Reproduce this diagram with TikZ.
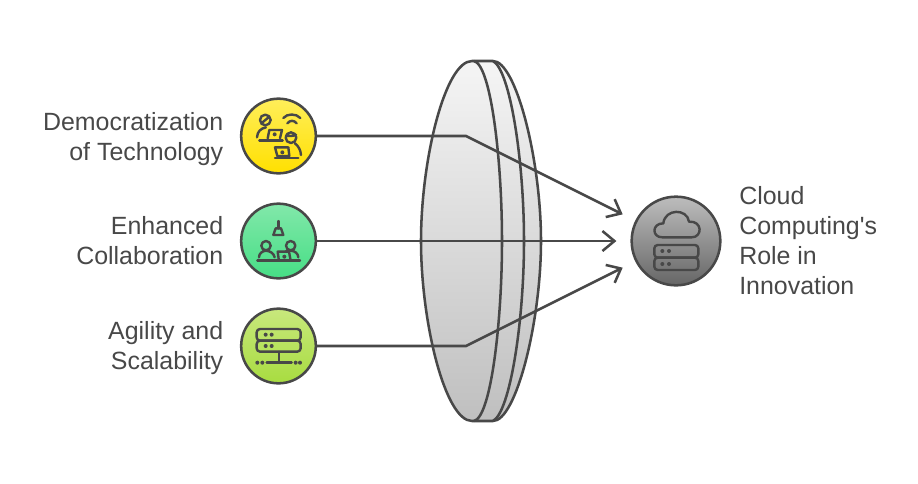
\documentclass[tikz,border=0pt]{standalone}
\usepackage{fontspec}
\setmainfont{Liberation Sans}
\usetikzlibrary{arrows.meta}
\definecolor{ink}{HTML}{484848}
\tikzset{
  x=0.75pt,y=-0.75pt,
  ln/.style={draw=ink,line width=1.9pt},
  thin icon/.style={draw=ink,line width=1.8pt,line cap=round,line join=round},
  dotf/.style={fill=ink,draw=none},
  disc/.style={circle,draw=ink,line width=1.9pt,minimum size=56pt,inner sep=0pt},
  lbl/.style={text=ink,font=\fontsize{18.7pt}{22.5pt}\selectfont,inner sep=0pt},
  arrow line/.style={ln,-{Straight Barb[length=9pt,width=15pt,line width=1.9pt]},shorten >=10.5pt},
}
\begin{document}
\begin{tikzpicture}
\useasboundingbox (0,0) rectangle (918,483);
% lens
\path[ln,top color=white!96!black,bottom color=black!25,line join=round]
  (472,61) -- (493,61) .. controls (516,61) and (541,160) .. (541,241)
  .. controls (541,322) and (516,421) .. (493,421) -- (472,421)
  .. controls (445,421) and (421,322) .. (421,241)
  .. controls (421,160) and (445,61) .. (472,61) -- cycle;
\draw[ln] (474,61) .. controls (491,65) and (502,160) .. (502,241)
  .. controls (502,322) and (491,417) .. (474,421);
\draw[ln] (493,61) .. controls (510,70) and (524,160) .. (524,241)
  .. controls (524,322) and (510,412) .. (493,421);
% nodes
\node[disc,top color={rgb,255:red,255;green,238;blue,90},bottom color={rgb,255:red,255;green,224;blue,0}] (c1) at (278.5,136) {};
\node[disc,top color={rgb,255:red,130;green,232;blue,170},bottom color={rgb,255:red,70;green,222;blue,133}] (c2) at (278.5,241) {};
\node[disc,top color={rgb,255:red,200;green,232;blue,125},bottom color={rgb,255:red,168;green,220;blue,64}] (c3) at (278.5,346) {};
\node[circle,draw=ink,line width=1.9pt,minimum size=66.5pt,inner sep=0pt,top color=black!26,bottom color=black!60] (hub) at (676,241) {};
\coordinate (b1) at (466,136);
\coordinate (b3) at (466,346);
\draw[arrow line] (c1.east) -- (b1) -- (hub);
\draw[arrow line] (c2.east) -- (hub);
\draw[arrow line] (c3.east) -- (b3) -- (hub);
% labels
\node[lbl,align=right,anchor=east] (t1) at (223.5,139.5) {Democratization\\of Technology};
\node[lbl,align=right,anchor=east] (t2) at (223.5,241) {Enhanced\\Collaboration};
\node[lbl,align=right,anchor=east] (t3) at (223.5,348.5) {Agility and\\Scalability};
\node[lbl,align=left,anchor=west] (t4) at (739,241) {Cloud\\Computing\textquotesingle s\\Role in\\Innovation};
% icon 1
\begin{scope}[shift={(230,90)},x=0.25pt,y=-0.25pt]
\draw[thin icon] (106,90) circle[radius=16] (94,100) -- (118,80);
\draw[thin icon] (81,142) .. controls (82,125) and (92,115) .. (108,112);
\draw[thin icon] (113,145) -- (118,120) -- (156,120) -- (150,145);
\draw[thin icon] (88,152) -- (158,152);
\fill[dotf] (134,133) circle[radius=6];
\draw[thin icon] (160,84) .. controls (172,70) and (198,70) .. (211,84);
\draw[thin icon] (172,100) .. controls (180,90) and (192,90) .. (200,100);
\draw[thin icon] (183,143) circle[radius=16] (168,136) .. controls (178,140) and (190,138) .. (198,134);
\draw[thin icon] (195,160) .. controls (205,168) and (212,180) .. (213,195);
\draw[thin icon] (135,172) -- (175,172) -- (178,198) -- (142,198) -- cycle;
\draw[thin icon] (135,204) -- (205,204);
\fill[dotf] (157,187) circle[radius=6];
\end{scope}
% icon 2
\begin{scope}[shift={(230,195)},x=0.25pt,y=-0.25pt]
\draw[thin icon] (145,78) -- (145,100);
\draw[thin icon] (137,100) -- (153,100) -- (160,120) -- (130,120) -- cycle;
\draw[thin icon] (108,152) circle[radius=14] (87,187) .. controls (87,175) and (97,168) .. (108,167) .. controls (120,168) and (132,175) .. (134,187);
\draw[thin icon] (182,152) circle[radius=14] (168,168) -- (182,167) .. controls (195,168) and (204,175) .. (205,187);
\draw[thin icon] (146,192) -- (143,170) -- (177,170) -- (181,192);
\fill[dotf] (163,185) circle[radius=6];
\draw[thin icon] (82,196) -- (210,196);
\end{scope}
% icon 3
\begin{scope}[shift={(230,300)},x=0.25pt,y=-0.25pt]
\draw[thin icon,rounded corners=2.5pt] (80,87) rectangle (212,122);
\draw[thin icon,rounded corners=2.5pt] (80,122) rectangle (212,155);
\foreach \px/\py in {107/104,125/104,107/138,125/138,82/188,97/188,197/188,210/188}
  \fill[dotf] (\px,\py) circle[radius=6];
\draw[thin icon] (147,155) -- (147,188);
\draw[thin icon] (110,188) -- (185,188);
\end{scope}
% icon 4
\begin{scope}[shift={(600,180)},x=0.25pt,y=-0.25pt]
\draw[thin icon] (187,172) .. controls (155,172) and (155,130) .. (190,130)
  .. controls (195,85) and (262,85) .. (267,125)
  .. controls (308,122) and (308,172) .. (275,172) -- cycle;
\draw[thin icon,rounded corners=2.5pt] (163,195) rectangle (295,233);
\draw[thin icon,rounded corners=2.5pt] (163,233) rectangle (295,270);
\foreach \px/\py in {187/213,207/213,187/252,207/252}
  \fill[dotf] (\px,\py) circle[radius=6];
\end{scope}
\end{tikzpicture}
\end{document}
